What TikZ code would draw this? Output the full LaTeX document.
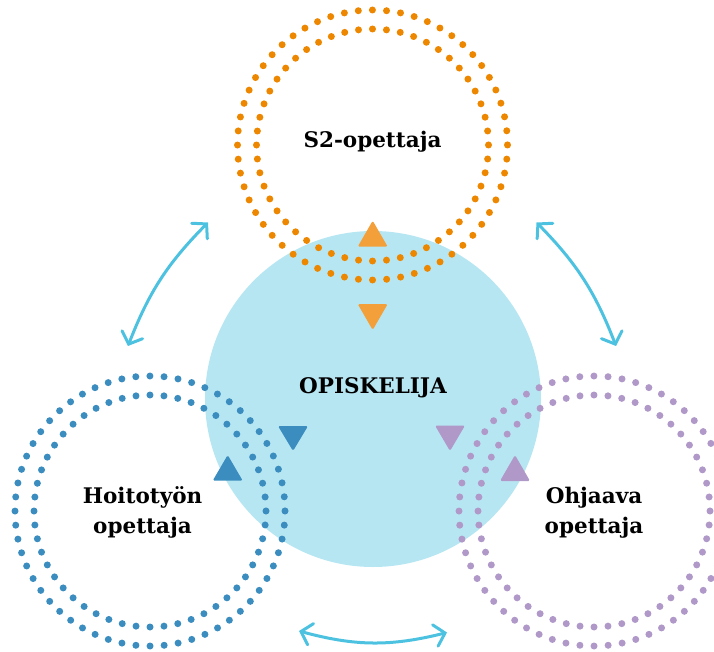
\documentclass[tikz,border=0pt]{standalone}
\usepackage{fontspec}
\setmainfont{DejaVu Serif}
\usetikzlibrary{arrows.meta,bending}
\definecolor{studentblue}{RGB}{183,230,243}
\definecolor{dotorange}{RGB}{238,135,0}
\definecolor{triorange}{RGB}{244,160,58}
\definecolor{dotblue}{RGB}{58,141,190}
\definecolor{dotpurple}{RGB}{176,152,200}
\definecolor{arrowblue}{RGB}{77,194,224}
\pgfmathsetmacro{\perout}{2*pi*135/60}
\pgfmathsetmacro{\perin}{2*pi*116/52}
\begin{document}
\begin{tikzpicture}[x=1pt,y=-1pt,
  dotsout/.style={line width=7pt, line cap=round, dash pattern=on 0pt off \perout pt},
  dotsin/.style={line width=7pt, line cap=round, dash pattern=on 0pt off \perin pt},
  lbl/.style={font=\fontsize{21.5}{21.5}\selectfont\bfseries, inner sep=0pt, anchor=base},
  dblarrow/.style={arrowblue, line width=3pt, line cap=round,
    {Straight Barb[length=10pt,width=22pt,line cap=round,flex]}-{Straight Barb[length=10pt,width=22pt,line cap=round,flex]}},
  tri/.style={rounded corners=1.5pt}]
\useasboundingbox (0,0) rectangle (714,652);
\clip (0,0) rectangle (714,652);
% central circle
\fill[studentblue] (373,399) circle[radius=168];
% dotted rings
\draw[dotorange, dotsout] (372.5,145) circle[radius=135];
\draw[dotorange, dotsin] (372.5,145) circle[radius=116];
\draw[dotblue, dotsout] (150,511) circle[radius=135];
\draw[dotblue, dotsin] (150,511) circle[radius=116];
\draw[dotpurple, dotsout] (594,511) circle[radius=135];
\draw[dotpurple, dotsin] (594,511) circle[radius=116];
% triangles
\fill[triorange, tri] (357.7,246.7) -- (372.7,220.7) -- (387.7,246.7) -- cycle;
\fill[triorange, tri] (357.7,304) -- (387.7,304) -- (372.7,330) -- cycle;
\fill[dotblue, tri] (278,426) -- (308,426) -- (293,451) -- cycle;
\fill[dotblue, tri] (212.7,480.7) -- (227.7,455) -- (242.7,480.7) -- cycle;
\fill[dotpurple, tri] (435,425.5) -- (465,425.5) -- (450,451) -- cycle;
\fill[dotpurple, tri] (500,481) -- (515,455) -- (530,481) -- cycle;
% labels
\node[lbl] (s2) at (372.5,147.7) {S2-opettaja};
\node[lbl] (stud) at (373,393.3) {OPISKELIJA};
\node[lbl] (hoi1) at (142.5,503.3) {Hoitotyön};
\node[lbl] (hoi2) at (142.5,533) {opettaja};
\node[lbl] (ohj1) at (594,503) {Ohjaava};
\node[lbl] (ohj2) at (594,533) {opettaja};
% arrows
\coordinate (la) at (208,222.5);
\coordinate (lb) at (128,346);
\coordinate (ra) at (536.5,222.5);
\coordinate (rb) at (616,346);
\coordinate (ba) at (299,631);
\coordinate (bb) at (447,632.5);
\draw[dblarrow] (la) to[bend right=12] (lb);
\draw[dblarrow] (ra) to[bend left=12] (rb);
\draw[dblarrow] (ba) to[bend right=15] (bb);
\end{tikzpicture}
\end{document}
